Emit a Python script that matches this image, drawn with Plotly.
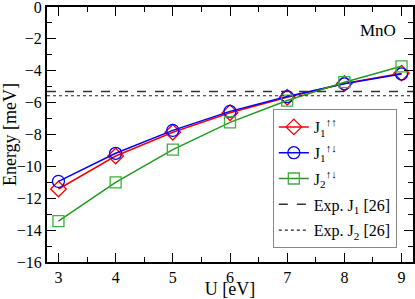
import plotly.graph_objects as go

U = [3, 4, 5, 6, 7, 8, 9]
J1_uu = [-11.42, -9.35, -7.86, -6.63, -5.66, -4.80, -4.15]
J1_ud = [-10.94, -9.18, -7.74, -6.55, -5.62, -4.82, -4.20]
J2_ud = [-13.44, -11.00, -8.95, -7.24, -5.87, -4.72, -3.72]
exp_J1 = -5.30
exp_J2 = -5.57
x_range = [2.8, 9.2]
y_range = [-16, 0]

FONT = "Liberation Serif"
fig = go.Figure()

fig.add_trace(go.Scatter(x=U, y=J1_uu, mode="lines+markers",
    name="J<sub>1</sub><sup>↑↑</sup>", legendgroup="a",
    line=dict(color="#ff0000", width=1.5),
    marker=dict(symbol="diamond-open", size=12, color="#ff0000", line=dict(width=1.3))))
fig.add_trace(go.Scatter(x=U, y=J1_ud, mode="lines+markers",
    name="J<sub>1</sub><sup>↑↓</sup>", legendgroup="b",
    line=dict(color="#0000ff", width=1.5),
    marker=dict(symbol="circle-open", size=12, color="#0000ff", line=dict(width=1.3))))
fig.add_trace(go.Scatter(x=U, y=J2_ud, mode="lines+markers",
    name="J<sub>2</sub><sup>↑↓</sup>", legendgroup="c",
    line=dict(color="#1f9a1f", width=1.5),
    marker=dict(symbol="square-open", size=11, color="#3cb03c", line=dict(width=1.3))))
fig.add_trace(go.Scatter(x=x_range, y=[exp_J1, exp_J1], mode="lines",
    name="Exp. J<sub>1</sub> [26]", legendgroup="d",
    line=dict(color="#333333", width=1.5, dash="dash")))
fig.add_trace(go.Scatter(x=x_range, y=[exp_J2, exp_J2], mode="lines",
    name="Exp. J<sub>2</sub> [26]", legendgroup="e",
    line=dict(color="#222222", width=1.2, dash="dot")))

axis_common = dict(showgrid=False, zeroline=False, showline=True, linecolor="black",
                   linewidth=2, mirror="allticks", ticks="inside", tickcolor="black",
                   tickwidth=1, ticklen=9, ticklabeloverflow="allow", automargin=False,
                   tickfont=dict(family=FONT, size=16, color="black"))

fig.update_xaxes(range=x_range, dtick=1, tick0=3,
                 minor=dict(dtick=0.5, ticks="inside", ticklen=5, tickcolor="black", tickwidth=1),
                 title=dict(text="U [eV]", font=dict(family=FONT, size=18, color="black"), standoff=1),
                 **axis_common)
fig.update_yaxes(range=y_range, dtick=2,
                 minor=dict(dtick=1, ticks="inside", ticklen=5, tickcolor="black", tickwidth=1),
                 title=dict(text="Energy [meV]", font=dict(family=FONT, size=18, color="black"), standoff=4),
                 **axis_common)

fig.add_annotation(x=0.958, y=0.952, xref="paper", yref="paper", text="MnO",
                   showarrow=False, xanchor="right", yanchor="top",
                   font=dict(family=FONT, size=17, color="black"))

fig.update_layout(
    width=415, height=299,
    margin=dict(l=47, r=2, t=7, b=37),
    plot_bgcolor="white", paper_bgcolor="white",
    font=dict(family=FONT, color="black"),
    legend=dict(x=0.617, y=0.60, xanchor="left", yanchor="top",
                bgcolor="white", bordercolor="#888888", borderwidth=1,
                font=dict(family=FONT, size=16, color="black"),
                tracegroupgap=2, itemwidth=30),
    showlegend=True,
)

fig.write_html("out.html", config={"displayModeBar": False},
               post_script="document.body.style.margin='0';")
